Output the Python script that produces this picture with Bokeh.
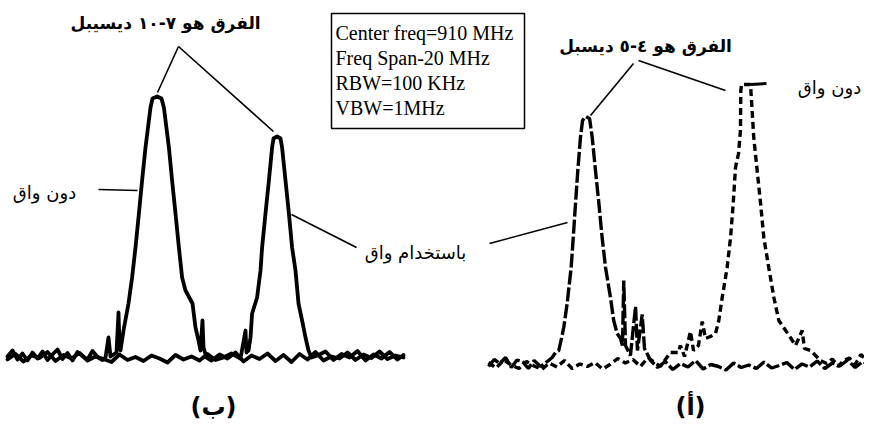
from bokeh.plotting import figure
from bokeh.models import Range1d, Label
from bokeh.embed import file_html
from bokeh.resources import INLINE

# ---------------- data (frequency in MHz, level in dBm) ----------------
# panel (b): left panel, solid traces
B_NOSHIELD_FREQ = [900.1, 900.35, 900.6, 900.85, 901.1, 901.35, 901.6, 901.85, 902.1, 902.35,
                   902.6, 902.85, 903.1, 903.35, 903.6, 903.85, 904.1, 904.35, 904.6, 904.85,
                   905.0, 905.15, 905.25, 905.55, 905.65, 905.7, 905.75, 905.9, 906.15, 906.33,
                   906.5, 906.67, 906.83, 907.0, 907.25, 907.35, 907.58, 907.8, 907.92, 908.17,
                   908.33, 908.5, 908.67, 908.83, 909.0, 909.35, 909.5, 909.65, 909.75, 909.85,
                   909.9, 910.05, 910.3, 910.7, 911.1, 911.5, 911.9, 912.3, 912.7, 913.1,
                   913.5, 913.9, 914.3, 914.7, 915.1, 915.5, 915.9, 916.3, 916.7, 917.1,
                   917.5, 917.9, 918.3, 918.7, 919.1, 919.5, 919.9]
B_NOSHIELD_LEVEL = [-69.8, -68.6, -70.4, -69.2, -70.6, -69.0, -70.2, -68.8, -70.5, -69.4,
                    -68.4, -70.3, -69.1, -70.6, -68.9, -69.7, -70.4, -68.7, -69.9, -70.5,
                    -70.0, -66.0, -69.8, -69.0, -61.0, -67.6, -68.6, -64.6, -59.2, -54.0,
                    -48.0, -41.2, -34.6, -28.0, -20.0, -18.2, -17.8, -18.2, -20.0, -28.0,
                    -34.6, -41.2, -48.0, -54.0, -56.6, -59.2, -64.0, -66.6, -68.6, -62.6,
                    -68.0, -70.0, -70.6, -69.4, -70.2, -69.0, -70.8, -69.6, -70.3, -69.2,
                    -70.7, -69.5, -70.9, -69.3, -70.4, -68.9, -70.6, -69.8, -70.2, -69.0,
                    -70.5, -69.4, -70.1, -68.8, -70.3, -69.6, -70.0]

B_SHIELD_FREQ = [900.1, 900.5, 900.9, 901.3, 901.7, 902.1, 902.5, 902.9, 903.3, 903.7,
                 904.1, 904.5, 904.9, 905.3, 905.7, 906.1, 906.5, 906.9, 907.3, 907.7,
                 908.1, 908.5, 908.9, 909.3, 909.7, 910.1, 910.5, 910.9, 911.3,
                 911.75, 912.0, 912.05, 912.15, 912.25, 912.33, 912.58, 912.75, 912.83, 913.0,
                 913.17, 913.33, 913.4, 913.58, 913.75, 913.83, 914.0, 914.17, 914.33, 914.5,
                 914.65, 914.83, 915.0, 915.15, 915.3, 915.6, 916.0, 916.4, 916.8, 917.2,
                 917.6, 918.0, 918.4, 918.8, 919.2, 919.6, 919.9]
B_SHIELD_LEVEL = [-70.4, -69.3, -70.8, -69.6, -70.1, -68.9, -70.7, -69.5, -70.2, -69.1,
                  -70.6, -69.8, -70.3, -70.9, -69.4, -70.5, -69.9, -70.7, -69.6, -70.2,
                  -71.0, -69.5, -70.4, -69.8, -70.6, -69.3, -70.5, -70.0, -69.2,
                  -70.2, -64.6, -69.0, -68.6, -66.0, -61.2, -58.0, -52.6, -48.0, -41.2,
                  -34.6, -28.0, -26.2, -25.8, -26.2, -28.0, -34.6, -41.2, -48.0, -52.6,
                  -59.2, -62.6, -66.0, -68.6, -70.0, -69.6, -68.8, -70.5, -69.3, -70.0,
                  -68.7, -70.6, -69.4, -70.2, -68.9, -70.4, -69.5]

# panel (a): right panel, broken traces
A_SHIELD_FREQ = [900.0, 900.3, 900.6, 900.9, 901.2, 901.5, 901.8, 902.1, 902.4,
                 902.74, 903.16, 903.35, 903.53, 903.7, 903.84, 903.96, 904.14, 904.35, 904.46,
                 904.58, 904.7, 904.84, 904.95, 905.11, 905.32, 905.46, 905.63, 905.81, 905.98,
                 906.16, 906.42, 906.59, 906.77, 906.95, 907.05, 907.12, 907.21, 907.47, 907.74,
                 907.84, 908.09, 908.21, 908.53,
                 908.9, 909.3, 909.7, 910.1, 910.5, 910.9, 911.3, 911.7, 912.1, 912.5,
                 912.9, 913.3, 913.7, 914.1, 914.5, 914.9, 915.3, 915.7, 916.1, 916.5,
                 916.9, 917.3, 917.7, 918.1, 918.5, 918.9, 919.3, 919.7, 920.0]
A_SHIELD_LEVEL = [-70.2, -68.8, -69.6, -68.4, -70.4, -68.9, -69.3, -70.6, -69.0,
                  -70.2, -69.0, -68.4, -67.4, -67.0, -64.6, -62.4, -57.6, -50.4, -44.4,
                  -37.6, -31.0, -24.4, -21.0, -20.2, -20.6, -24.4, -31.0, -37.6, -44.4,
                  -50.4, -56.4, -61.0, -63.6, -64.6, -66.0, -53.0, -66.0, -68.0, -58.2,
                  -67.0, -59.8, -66.6, -69.0,
                  -70.4, -69.2, -70.8, -69.6, -70.3, -69.0, -70.7, -69.8, -70.2, -70.9,
                  -69.5, -70.4, -69.9, -70.6, -69.3, -70.5, -70.0, -69.4, -70.8, -69.7,
                  -70.3, -69.1, -70.6, -69.5, -70.1, -68.9, -70.4, -69.2, -69.8]

A_NOSHIELD_FREQ = [900.0, 900.4, 900.8, 901.2, 901.6, 902.0, 902.4, 902.8, 903.2, 903.6,
                   904.0, 904.4, 904.8, 905.2, 905.6, 906.0, 906.4, 906.8, 907.2, 907.6,
                   908.0, 908.4, 908.8,
                   909.05, 909.58, 910.0, 910.1, 910.32, 910.63, 910.79, 911.05, 911.25, 911.42,
                   911.68, 911.95, 912.12, 912.3, 912.56, 912.74, 912.88, 913.0, 913.16, 913.26,
                   913.28, 913.32, 913.79, 913.81, 913.96, 914.14, 914.32, 914.49, 914.75, 915.02,
                   915.28, 915.53, 915.89, 916.16, 916.51, 916.63, 916.95, 917.11, 917.47,
                   917.8, 918.1, 918.4, 918.7, 919.0, 919.3, 919.6, 920.0]
A_NOSHIELD_LEVEL = [-69.4, -70.5, -68.9, -69.9, -70.6, -69.2, -70.1, -70.8, -69.5, -70.3,
                    -69.0, -70.6, -69.7, -70.2, -69.4, -70.7, -69.8, -68.6, -69.5, -68.8,
                    -70.2, -68.4, -69.6,
                    -70.2, -67.4, -67.4, -66.0, -68.2, -63.2, -67.0, -66.0, -61.2, -64.6,
                    -64.2, -63.6, -61.0, -56.4, -50.4, -44.4, -37.6, -30.4, -27.6, -23.0,
                    -15.0, -13.8, -13.8, -15.0, -24.4, -31.0, -37.6, -44.4, -50.4, -56.4,
                    -61.0, -62.4, -64.4, -66.0, -63.0, -66.6, -67.0, -67.6, -69.0,
                    -69.6, -68.7, -70.2, -69.0, -68.5, -69.8, -67.8, -69.4]

INFO_LINES = ["Center freq=910 MHz", "Freq Span-20 MHz", "RBW=100 KHz", "VBW=1MHz"]
TITLE_B = "الفرق هو  ٧-١٠ ديسيبل"
TITLE_A = "الفرق هو ٤-٥ ديسبل"
NO_SHIELD = "دون واق"
WITH_SHIELD = "باستخدام واق"
PANEL_B = "(ب)"
PANEL_A = "(أ)"

# ---------------- layout (picture pixels) ----------------
W, H = 864, 432
X0, X1, Y0, Y1 = 0, W, 0, H

def freq_range(px_center, px_per_mhz, f_center=910.0):
    return Range1d(f_center + (X0 - px_center) / px_per_mhz, f_center + (X1 - px_center) / px_per_mhz)

def level_range(py_floor, px_per_db, floor_db=-70.0):
    return Range1d(floor_db + (py_floor - Y1) / px_per_db, floor_db + (py_floor - Y0) / px_per_db)

p = figure(width=W, height=H, x_range=Range1d(X0, X1), y_range=Range1d(Y1, Y0),
           output_backend="svg", toolbar_location=None, min_border=0,
           x_axis_location=None, y_axis_location=None)
p.grid.visible = False
p.outline_line_color = None
p.background_fill_color = "white"
p.border_fill_color = "white"

p.extra_x_ranges = {"fb": freq_range(205, 20.0), "fa": freq_range(678, 19.0)}
p.extra_y_ranges = {"lb": level_range(357, 5.0), "la": level_range(365, 5.0)}

# traces
p.line(B_NOSHIELD_FREQ, B_NOSHIELD_LEVEL, x_range_name="fb", y_range_name="lb",
       line_color="black", line_width=3.8, line_join="round", line_cap="round")
p.line(B_SHIELD_FREQ, B_SHIELD_LEVEL, x_range_name="fb", y_range_name="lb",
       line_color="black", line_width=3.8, line_join="round", line_cap="round")
p.line(A_SHIELD_FREQ, A_SHIELD_LEVEL, x_range_name="fa", y_range_name="la",
       line_color="black", line_width=3.4, line_dash="14 3")
p.line(A_NOSHIELD_FREQ, A_NOSHIELD_LEVEL, x_range_name="fa", y_range_name="la",
       line_color="black", line_width=3.4, line_dash="7 4")

# leader lines (annotation positions, picture pixels)
LEADERS = [((178, 46), (157, 92)), ((178, 46), (273, 131)),
           ((633, 63), (590, 115)), ((638, 60), (725, 90)),
           ((98, 189), (137, 190)),
           ((291, 214), (356, 247)), ((489, 243), (567, 222))]
p.segment([a[0] for a, b in LEADERS], [a[1] for a, b in LEADERS],
          [b[0] for a, b in LEADERS], [b[1] for a, b in LEADERS],
          line_color="black", line_width=1.6)
p.segment([750], [84], [766], [83], line_color="black", line_width=3)

# info box
p.quad(left=[331], right=[524], top=[13], bottom=[128], fill_color=None,
       line_color="black", line_width=1.5)
for i, t in enumerate(INFO_LINES):
    p.add_layout(Label(x=335, y=32 + 25 * i, text=t, text_font="Liberation Serif",
                       text_font_size="20px", text_baseline="middle", text_align="left",
                       text_color="black"))

def ar_label(x, y, text, size="17px", style="bold"):
    p.add_layout(Label(x=x, y=y, text=text, text_font="DejaVu Sans", text_font_size=size,
                       text_font_style=style, text_baseline="middle", text_align="center",
                       text_color="black"))

ar_label(168, 22, TITLE_B)
ar_label(645, 45, TITLE_A)
ar_label(44, 192, NO_SHIELD, size="18px", style="normal")
ar_label(829, 87, NO_SHIELD, size="18px", style="normal")
ar_label(415, 252, WITH_SHIELD, size="18px", style="normal")
ar_label(213, 406, PANEL_B, size="24px")
ar_label(690, 406, PANEL_A, size="24px")

open("out.html", "w").write(file_html(p, INLINE))
